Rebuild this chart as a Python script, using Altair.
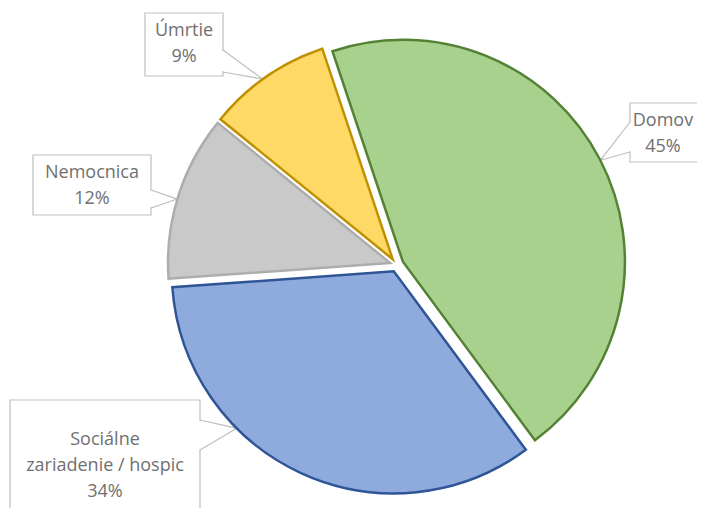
import math
import altair as alt
import pandas as pd

# ---- data ----
categories = ["Domov", "Sociálne zariadenie / hospic", "Nemocnica", "Úmrtie"]
label_names = ["Domov", "Sociálne\nzariadenie / hospic", "Nemocnica", "Úmrtie"]
values = [45, 34, 12, 9]

# ---- styles ----
fill_colors = ["#A9D18E", "#8FAADC", "#C9C9C9", "#FFD966"]
stroke_colors = ["#548235", "#2F5597", "#ADADAD", "#BF9000"]
TEXT_COLOR = "#707070"
BOX_COLOR = "#BFBFBF"
FONT = "Open Sans"

# ---- layout (chart pixels) ----
W, H = 689, 500
CX, CY, R = 388.7, 257.0, 222.0
START_DEG = -18.5
EXPLODE = 7.0

# callout boxes: (x0, y0, x1, y1), pointer base points, anchor angle on slice arc,
# position of the first text line
callouts = {
    "Domov": dict(box=(622, 95, 712, 154), base=((622, 114), (622, 144)), angle=62.8, text=(655, 113)),
    "Sociálne zariadenie / hospic": dict(box=(2, 392, 192, 530), base=((192, 412), (192, 442)), angle=225.0, text=(97, 432)),
    "Nemocnica": dict(box=(25, 147, 143, 207), base=((143, 182), (143, 200)), angle=286.7, text=(84, 165)),
    "Úmrtie": dict(box=(137, 5, 215, 68), base=((215, 42), (215, 64)), angle=324.2, text=(176, 23)),
}

# ---- build tables ----
total = sum(values)
rows = []
cum = 0
for i, (c, v) in enumerate(zip(categories, values)):
    a0, a1 = cum, cum + v
    cum = a1
    mid = math.radians(START_DEG + (a0 + a1) / total * 180.0)
    px = CX + EXPLODE * math.sin(mid)
    py = CY - EXPLODE * math.cos(mid)
    rows.append(dict(cat=c, value=v, a0=a0, a1=a1, px=px, py=py, order=i))
pie_df = pd.DataFrame(rows)

box_rows, erase_rows, ptr_rows, txt_rows = [], [], [], []
for r in rows:
    c = r["cat"]
    co = callouts[c]
    x0, y0, x1, y1 = co["box"]
    box_rows.append(dict(cat=c, x0=x0, y0=y0, x1=x1, y1=y1))
    (bx1, by1), (bx2, by2) = co["base"]
    erase_rows.append(dict(cat=c, x=bx1, y=by1 + 0.8, x2=bx2, y2=by2 - 0.8))
    ang = math.radians(co["angle"])
    ax = r["px"] + R * math.sin(ang)
    ay = r["py"] - R * math.cos(ang)
    ptr_rows += [
        dict(cat=c, k=0, x=bx1, y=by1),
        dict(cat=c, k=1, x=ax, y=ay),
        dict(cat=c, k=2, x=bx2, y=by2),
    ]
    i = categories.index(c)
    txt_rows.append(dict(cat=c, x=co["text"][0], y=co["text"][1],
                         label=f"{label_names[i]}\n{values[i]}%"))

box_df = pd.DataFrame(box_rows)
erase_df = pd.DataFrame(erase_rows)
ptr_df = pd.DataFrame(ptr_rows)
txt_df = pd.DataFrame(txt_rows)

fill_scale = alt.Scale(domain=categories, range=fill_colors)
stroke_scale = alt.Scale(domain=categories, range=stroke_colors)

pie = alt.Chart(pie_df).mark_arc(radius=R, strokeWidth=2.5, strokeJoin="miter").encode(
    x=alt.X("px:Q", scale=None, axis=None),
    y=alt.Y("py:Q", scale=None, axis=None),
    theta=alt.Theta("a0:Q", scale=alt.Scale(domain=[0, total],
                    range=[math.radians(START_DEG), math.radians(START_DEG) + 2 * math.pi]), stack=None),
    theta2="a1:Q",
    fill=alt.Fill("cat:N", scale=fill_scale, legend=None),
    stroke=alt.Stroke("cat:N", scale=stroke_scale, legend=None),
)

boxes = alt.Chart(box_df).mark_rect(fill="white", stroke=BOX_COLOR, strokeWidth=1.2).encode(
    x=alt.X("x0:Q", scale=None, axis=None), x2="x1:Q",
    y=alt.Y("y0:Q", scale=None, axis=None), y2="y1:Q",
)

erase = alt.Chart(erase_df).mark_rule(stroke="white", strokeWidth=2.5).encode(
    x=alt.X("x:Q", scale=None, axis=None), x2="x2:Q",
    y=alt.Y("y:Q", scale=None, axis=None), y2="y2:Q",
)

pointers = alt.Chart(ptr_df).mark_line(stroke=BOX_COLOR, strokeWidth=1.2).encode(
    x=alt.X("x:Q", scale=None, axis=None),
    y=alt.Y("y:Q", scale=None, axis=None),
    detail="cat:N",
    order=alt.Order("k:Q"),
)

texts = alt.Chart(txt_df).mark_text(
    font=FONT, fontSize=18, color=TEXT_COLOR, lineBreak="\n", lineHeight=26,
    align="center", baseline="middle",
).encode(
    x=alt.X("x:Q", scale=None, axis=None),
    y=alt.Y("y:Q", scale=None, axis=None),
    text="label:N",
)

chart = alt.layer(boxes, erase, pointers, pie, texts).properties(
    width=W, height=H, padding=0,
    autosize=alt.AutoSizeParams(type="none"),
).configure_view(stroke=None)

chart.save("out.html", embed_options={"renderer": "svg", "actions": False})
